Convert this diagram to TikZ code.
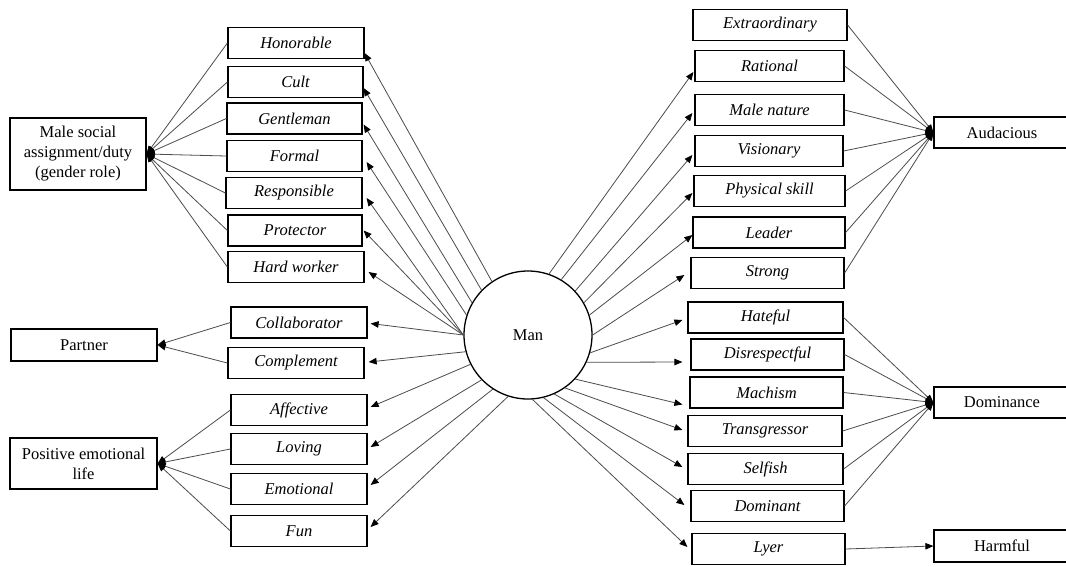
\documentclass[tikz,border=0pt]{standalone}
\usepackage{fontspec}
\setmainfont{Liberation Serif}
\newfontfamily\tnr{Liberation Serif}
\usetikzlibrary{arrows.meta}
\begin{document}
\begin{tikzpicture}[x=1pt,y=-1pt,
  box/.style={draw, line width=1.2pt, minimum height=31pt, inner sep=0pt, font=\tnr\fontsize{16.5}{20}\selectfont\itshape},
  grp/.style={draw, line width=1.2pt, inner sep=0pt, align=center, font=\tnr\fontsize{16.5}{20}\selectfont},
  link/.style={draw=black!70, line width=0.8pt, -{Triangle[length=8pt,width=6.5pt,color=black]}},
  ]
\useasboundingbox (0,0) rectangle (1066,566);
\clip (0,0) rectangle (1066,566);
\fill[white] (0,0) rectangle (1066,566);

% centre
\node[circle, draw, line width=1.3pt, minimum size=128pt, inner sep=0pt, font=\tnr\fontsize{16.5}{20}\selectfont] (man) at (528,335) {Man};

% left group boxes
\node[grp, minimum width=136pt, minimum height=72pt] (male) at (78,154) {Male social\\assignment/duty\\(gender role)};
\node[grp, minimum width=146pt, minimum height=32pt] (part) at (84,345) {Partner};
\node[grp, minimum width=147pt, minimum height=51pt] (pos) at (83.5,463.5) {Positive emotional\\life};

% left adjectives
\node[box, minimum width=136pt] (hon) at (296,43) {Honorable};
\node[box, minimum width=135pt] (cult) at (295.5,82) {Cult};
\node[box, minimum width=135pt] (gent) at (294.5,118.5) {Gentleman};
\node[box, minimum width=135pt] (form) at (294.5,156) {Formal};
\node[box, minimum width=136pt] (resp) at (294,193) {Responsible};
\node[box, minimum width=134pt] (prot) at (295,230.5) {Protector};
\node[box, minimum width=136pt] (hard) at (296,267) {Hard worker};
\node[box, minimum width=136pt] (coll) at (299,322.5) {Collaborator};
\node[box, minimum width=136pt] (comp) at (296,363) {Complement};
\node[box, minimum width=136pt] (affe) at (299,410) {Affective};
\node[box, minimum width=136pt] (lovi) at (299,449) {Loving};
\node[box, minimum width=136pt] (emot) at (299,489) {Emotional};
\node[box, minimum width=136pt] (fun) at (299,531) {Fun};

% right adjectives
\node[box, minimum width=154pt] (extr) at (770,25) {Extraordinary};
\node[box, minimum width=149pt] (rati) at (769.5,66) {Rational};
\node[box, minimum width=149pt] (maln) at (769.5,110) {Male nature};
\node[box, minimum width=148pt] (visi) at (769,151) {Visionary};
\node[box, minimum width=151pt] (phys) at (769.5,191) {Physical skill};
\node[box, minimum width=152pt] (lead) at (769,232.5) {Leader};
\node[box, minimum width=153pt] (stro) at (767.5,273) {Strong};
\node[box, minimum width=155pt] (hate) at (765.5,317.5) {Hateful};
\node[box, minimum width=153pt] (disr) at (767.5,354.5) {Disrespectful};
\node[box, minimum width=153pt] (mach) at (766.5,392.5) {Machism};
\node[box, minimum width=154pt] (tran) at (765,431) {Transgressor};
\node[box, minimum width=155pt] (self) at (765.5,469) {Selfish};
\node[box, minimum width=153pt] (domi) at (767.5,506) {Dominant};
\node[box, minimum width=153pt] (lyer) at (768.5,549) {Lyer};

% right group boxes
\node[grp, minimum width=136pt, minimum height=31pt] (auda) at (1002,132.5) {Audacious};
\node[grp, minimum width=136pt, minimum height=31pt] (domc) at (1002,402.5) {Dominance};
\node[grp, minimum width=136pt, minimum height=32pt] (harm) at (1002,546) {Harmful};

% arrows from Man, left
\draw[link] (man.124) -- ([yshift=-10pt]hon.east);
\draw[link] (man.136) -- ([yshift=-6pt]cult.east);
\draw[link] (man.150) -- ([yshift=-6pt,xshift=1pt]gent.east);
\draw[link] (man.162) -- ([yshift=-6pt,xshift=4pt]form.east);
\draw[link] (man.180) -- ([yshift=-5pt,xshift=4pt]resp.east);
\draw[link] (man.180) -- ([xshift=1pt]prot.east);
\draw[link] (man.180) -- ([yshift=-5pt,xshift=4pt]hard.east);
\draw[link] (man.180) -- ([yshift=-1pt,xshift=3pt]coll.east);
\draw[link] (man.195) -- ([yshift=1pt,xshift=4pt]comp.east);
\draw[link] (man.207) -- ([yshift=3pt,xshift=3pt]affe.east);
\draw[link] (man.224) -- ([yshift=2pt,xshift=3pt]lovi.east);
\draw[link] (man.237) -- ([yshift=4pt,xshift=3pt]emot.east);
\draw[link] (man.252) -- ([yshift=4pt,xshift=3pt]fun.east);

% arrows from Man, right
\draw[link] (man.71) -- ([yshift=-6pt,xshift=-1pt]rati.west);
\draw[link] (man.59) -- ([yshift=-3pt,xshift=-2pt]maln.west);
\draw[link] (man.43) -- ([yshift=-4pt,xshift=-2pt]visi.west);
\draw[link] (man.30) -- ([yshift=-2pt,xshift=-1pt]phys.west);
\draw[link] (man.18) -- ([yshift=-2.5pt]lead.west);
\draw[link] (man.0) -- ([yshift=-2pt,xshift=-6pt]stro.west);
\draw[link] (man.-16) -- ([yshift=-2.5pt,xshift=-5pt]hate.west);
\draw[link] (man.-25) -- ([yshift=-7.5pt,xshift=-8pt]disr.west);
\draw[link] (man.-43) -- ([yshift=-12pt,xshift=-7pt]mach.west);
\draw[link] (man.-55) -- ([yshift=1pt,xshift=-5pt]tran.west);
\draw[link] (man.-66) -- ([yshift=2pt,xshift=-5pt]self.west);
\draw[link] (man.-76) -- ([yshift=1pt,xshift=-6pt]domi.west);
\draw[link] (man.-86) -- ([yshift=2pt,xshift=-4pt]lyer.west);

% aggregation, left
\foreach \n in {hon,cult,gent,form,resp,prot,hard}
  \draw[link] (\n.west) -- (male.east);
\foreach \n in {coll,comp}
  \draw[link] (\n.west) -- (part.east);
\foreach \n in {affe,lovi,emot,fun}
  \draw[link] (\n.west) -- (pos.east);

% aggregation, right
\foreach \n in {extr,rati,maln,visi,phys,lead,stro}
  \draw[link] (\n.east) -- (auda.west);
\foreach \n in {hate,disr,mach,tran,self,domi}
  \draw[link] (\n.east) -- (domc.west);
\draw[link] (lyer.east) -- (harm.west);
\end{tikzpicture}
\end{document}
